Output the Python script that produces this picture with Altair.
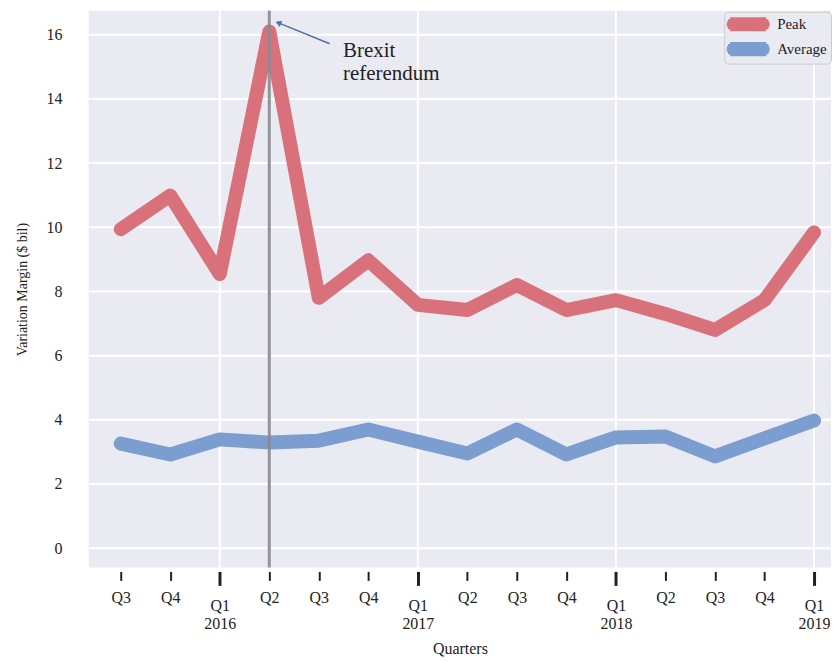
import json
import math
import altair as alt
import pandas as pd

FONT = "Liberation Serif"
TEXT_COLOR = "#222222"

# ---- data ----
quarters = ["Q3", "Q4", "Q1", "Q2", "Q3", "Q4", "Q1", "Q2", "Q3", "Q4", "Q1", "Q2", "Q3", "Q4", "Q1"]
years = ["", "", "2016", "", "", "", "2017", "", "", "", "2018", "", "", "", "2019"]
peak = [9.94, 10.99, 8.54, 16.1, 7.8, 8.97, 7.58, 7.42, 8.2, 7.42, 7.73, 7.3, 6.8, 7.73, 9.84]
average = [3.26, 2.92, 3.39, 3.29, 3.35, 3.7, 3.32, 2.95, 3.7, 2.92, 3.45, 3.48, 2.86, 3.42, 3.98]
series_names = ["Peak", "Average"]
series_colors = ["#d9717b", "#7b9dcf"]
y_ticks = [0, 2, 4, 6, 8, 10, 12, 14, 16]
referendum_index = 3
annotation_text = ["Brexit", "referendum"]
annotation_text_pos = [4.49, 15.84]
arrow_start = [4.22, 15.72]
arrow_end = [3.2, 16.36]

rows = []
for name, vals in zip(series_names, [peak, average]):
    for i, v in enumerate(vals):
        rows.append({"idx": i, "series": name, "value": v})
df = pd.DataFrame(rows)

x_scale = alt.Scale(domain=[-0.6446, 14.343], nice=False, zero=False)
y_scale = alt.Scale(domain=[-0.6, 16.746], nice=False, zero=False)

label_arrays = [[q, y] if y else [q] for q, y in zip(quarters, years)]
label_expr = json.dumps(label_arrays) + "[round(datum.value)]"
q1_idx = [i for i, q in enumerate(quarters) if q == "Q1"]
is_q1 = f"indexof({json.dumps(q1_idx)}, datum.value) >= 0"


def cond(a, b):
    return {"condition": {"test": is_q1, "value": a}, "value": b}


# legend symbol: a rounded thick bar built from thin horizontal strokes
# (unit = 7 px with symbolSize 196)
def legend_bar_path():
    left, right, radius = -3.0, 26.0, 7.0   # core of the bar, px
    parts = []
    for dy in [-6, -4, -2, 0, 2, 4, 6]:
        ext = math.sqrt(max(radius ** 2 - dy ** 2, 0))
        x1 = (left - ext) / 7.0
        x2 = (right + ext) / 7.0
        y = dy / 7.0
        parts.append(f"M{x1:.3f},{y:.3f}L{x2:.3f},{y:.3f}")
    return "".join(parts)


x_axis = alt.Axis(
    values=list(range(len(quarters))),
    labelExpr=label_expr,
    grid=False,
    domain=False,
    ticks=True,
    tickColor=TEXT_COLOR,
    tickSize=cond(14, 9),
    tickWidth=cond(3, 2),
    offset=4,
    labelPadding=cond(12, 9),
    labelFontSize=16,
    labelLineHeight=18,
    labelFont=FONT,
    labelColor=TEXT_COLOR,
    labelFlush=False,
    labelBound=False,
    labelOverlap=False,
    title="Quarters",
    titleFont=FONT,
    titleFontSize=16,
    titleFontWeight="normal",
    titleColor=TEXT_COLOR,
    titlePadding=9,
)

y_axis = alt.Axis(
    values=y_ticks,
    format="d",
    grid=False,
    domain=False,
    ticks=False,
    labelPadding=27,
    labelFontSize=16,
    labelFont=FONT,
    labelColor=TEXT_COLOR,
    title="Variation Margin ($ bil)",
    titleFont=FONT,
    titleFontSize=14,
    titleFontWeight="normal",
    titleColor=TEXT_COLOR,
    titlePadding=16,
)

# white grid: horizontal at every y tick, vertical only at Q1 quarters
hgrid = alt.Chart(pd.DataFrame({"value": y_ticks})).mark_rule(
    color="white", strokeWidth=2
).encode(y=alt.Y("value:Q", scale=y_scale, axis=y_axis))
vgrid = alt.Chart(pd.DataFrame({"idx": q1_idx})).mark_rule(
    color="white", strokeWidth=2
).encode(x=alt.X("idx:Q", scale=x_scale, axis=x_axis))

lines = alt.Chart(df).mark_line(
    strokeWidth=14, strokeCap="round", strokeJoin="round"
).encode(
    x=alt.X("idx:Q", scale=x_scale),
    y=alt.Y("value:Q", scale=y_scale),
    color=alt.Color(
        "series:N",
        scale=alt.Scale(domain=series_names, range=series_colors),
        legend=alt.Legend(
            title=None,
            orient="none",
            legendX=637,
            legendY=1,
            fillColor="#EAEAF2",
            strokeColor="#cbcbcb",
            cornerRadius=4,
            padding=4,
            labelFontSize=15,
            labelFont=FONT,
            labelColor=TEXT_COLOR,
            symbolType=legend_bar_path(),
            symbolStrokeWidth=2.2,
            symbolSize=196,
            symbolOpacity=1,
            rowPadding=4,
            labelOffset=32,
        ),
    ),
)

rule = alt.Chart(pd.DataFrame({"idx": [referendum_index]})).mark_rule(
    color="#8a8a8e", strokeWidth=3, opacity=0.9
).encode(x=alt.X("idx:Q", scale=x_scale))

arrow_df = pd.DataFrame({
    "idx": [arrow_start[0]], "value": [arrow_start[1]],
    "idx2": [arrow_end[0]], "value2": [arrow_end[1]],
})
arrow = alt.Chart(arrow_df).mark_rule(color="#4c72b0", strokeWidth=1.5).encode(
    x=alt.X("idx:Q", scale=x_scale),
    y=alt.Y("value:Q", scale=y_scale),
    x2="idx2:Q",
    y2="value2:Q",
)
head = alt.Chart(arrow_df).mark_point(
    shape="triangle", filled=True, size=45, angle=291, color="#4c72b0", opacity=1
).encode(
    x=alt.X("idx2:Q", scale=x_scale),
    y=alt.Y("value2:Q", scale=y_scale),
)

text_df = pd.DataFrame({"idx": [annotation_text_pos[0]], "value": [annotation_text_pos[1]]})
label = alt.Chart(text_df).mark_text(
    align="left", baseline="top", fontSize=21, lineHeight=23, font=FONT,
    color=TEXT_COLOR, text=annotation_text,
).encode(
    x=alt.X("idx:Q", scale=x_scale),
    y=alt.Y("value:Q", scale=y_scale),
)

chart = alt.layer(hgrid, vgrid, lines, rule, arrow, head, label).properties(
    width=744,
    height=558,
    padding={"left": 8, "top": 0, "right": 0, "bottom": 0},
    background="white",
).configure(font=FONT).configure_view(fill="#EAEAF2", strokeWidth=0)

chart.save("out.html", embed_options={"renderer": "svg", "actions": False})
